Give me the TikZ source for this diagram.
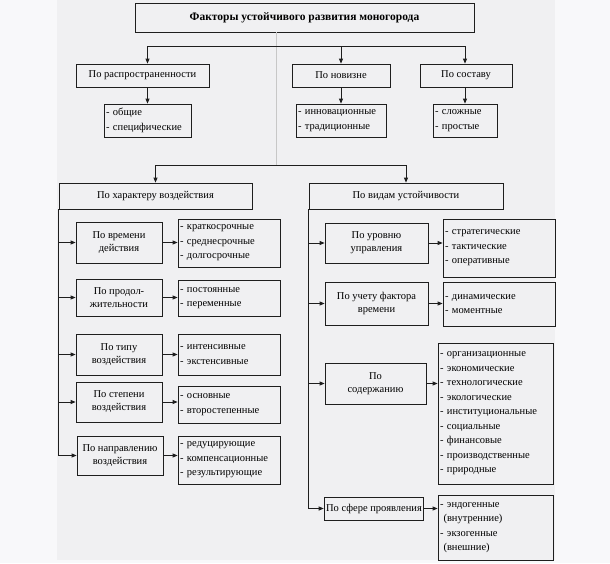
\documentclass[tikz,border=0pt]{standalone}
\usepackage{fontspec}
\setmainfont{Liberation Serif}
\usetikzlibrary{arrows.meta}
\definecolor{outerbg}{HTML}{F8F8FA}
\definecolor{innerbg}{HTML}{F0F0F2}
\definecolor{lineclr}{HTML}{1E1E1E}
\tikzset{
  bx/.style={draw=lineclr, line width=0.8pt, rectangle, inner sep=2pt, align=center,
    font=\fontsize{10.5}{13}\selectfont},
  sub/.style={draw=lineclr, line width=0.8pt, rectangle, inner xsep=2pt, inner ysep=1pt,
    align=left, font=\fontsize{10.5}{14.5}\selectfont},
  conn/.style={draw=lineclr, line width=0.8pt},
  arr/.style={conn, -{Triangle[length=5pt,width=4pt]}},
  grayline/.style={draw=black!22, line width=0.8pt}
}
\begin{document}
\begin{tikzpicture}[x=1pt,y=-1pt]
\useasboundingbox (0,0) rectangle (610,563);
\fill[outerbg] (0,0) rectangle (610,563);
\fill[innerbg] (57,0) rectangle (555,560);

% top level
\node[bx, minimum width=339pt, minimum height=29pt, font=\fontsize{11.5}{14}\selectfont\bfseries] (title) at (304.5,17.5) {Факторы устойчивого развития моногорода};

\node[bx, minimum width=133pt, minimum height=23pt] (rasp) at (142.5,75.5) {По распространенности};
\node[bx, minimum width=98pt, minimum height=23pt] (nov) at (341,75.5) {По новизне};
\node[bx, minimum width=92pt, minimum height=23pt] (sost) at (466,75.5) {По составу};

\node[sub, text width=83pt, minimum height=33pt] (raspsub) at (147.5,120.5) {- общие\\- специфические};
\node[sub, text width=86pt, minimum height=33pt] (novsub) at (341,120.5) {- инновационные\\- традиционные};
\node[sub, text width=60pt, minimum height=33pt] (sostsub) at (465,120.5) {- сложные\\- простые};

\coordinate (hl) at (0,46);
\coordinate (split) at (276,165);
\draw[grayline] (title.south -| split) -- (split);
\draw[conn] (raspsub.north |- hl) -- (sostsub.north |- hl);
\draw[arr] (raspsub.north |- hl) -- (raspsub.north |- rasp.north);
\draw[arr] (novsub.north |- hl) -- (nov.north);
\draw[arr] (sostsub.north |- hl) -- (sostsub.north |- sost.north);
\draw[arr] (rasp.south -| raspsub.north) -- (raspsub.north);
\draw[arr] (nov.south) -- (novsub.north);
\draw[arr] (sost.south -| sostsub.north) -- (sostsub.north);

% second level
\node[bx, minimum width=193pt, minimum height=26pt] (har) at (155.5,196) {По характеру воздействия};
\node[bx, minimum width=194pt, minimum height=26pt] (vid) at (406,196) {По видам устойчивости};
\draw[conn] (har.north |- split) -- (vid.north |- split);
\draw[arr] (har.north |- split) -- (har.north);
\draw[arr] (vid.north |- split) -- (vid.north);

% left column
\node[bx, minimum width=86pt, minimum height=41pt] (time) at (119,242.5) {По времени\\действия};
\node[bx, minimum width=86pt, minimum height=37pt] (prod) at (119,297.5) {По продол-\\жительности};
\node[bx, minimum width=86pt, minimum height=41pt] (type) at (119,354.5) {По типу\\воздействия};
\node[bx, minimum width=86pt, minimum height=40pt] (step) at (119,402) {По степени\\воздействия};
\node[bx, minimum width=86pt, minimum height=39pt] (napr) at (120,455.5) {По направлению\\воздействия};

\node[sub, text width=98pt, minimum height=48pt] (timesub) at (229,243) {- краткосрочные\\- среднесрочные\\- долгосрочные};
\node[sub, text width=98pt, minimum height=36pt] (prodsub) at (229,298) {- постоянные\\- переменные};
\node[sub, text width=98pt, minimum height=41pt] (typesub) at (229,354.5) {- интенсивные\\- экстенсивные};
\node[sub, text width=98pt, minimum height=37pt] (stepsub) at (229,404.5) {- основные\\- второстепенные};
\node[sub, text width=98pt, minimum height=48pt] (naprsub) at (229,460) {- редуцирующие\\- компенсационные\\- результирующие};

\draw[conn] (har.south west) -- (har.south west |- napr.west);
\foreach \b in {time,prod,type,step,napr}{
  \draw[arr] (har.south west |- \b.west) -- (\b.west);
  \draw[arr] (\b.east) -- (\b.east -| \b sub.west);
}

% right column
\node[bx, minimum width=103pt, minimum height=40pt] (urov) at (376.5,243) {По уровню\\управления};
\node[bx, minimum width=103pt, minimum height=43pt] (uchet) at (376.5,303.5) {По учету фактора\\времени};
\node[bx, minimum width=101pt, minimum height=41pt] (sod) at (375.5,383.5) {По\\содержанию};
\node[bx, minimum width=98pt, minimum height=23pt] (sfera) at (374,508.5) {По сфере проявления};

\node[sub, text width=108pt, minimum height=58pt] (urovsub) at (499,248) {- стратегические\\- тактические\\- оперативные};
\node[sub, text width=108pt, minimum height=44pt] (uchetsub) at (499,304) {- динамические\\- моментные};
\node[sub, text width=111pt, minimum height=141pt] (sodsub) at (495.5,413.5) {- организационные\\- экономические\\- технологические\\- экологические\\- институциональные\\- социальные\\- финансовые\\- производственные\\- природные};
\node[sub, text width=111pt, minimum height=65pt] (sferasub) at (495.5,527.5) {- эндогенные\\\ (внутренние)\\- экзогенные\\\ (внешние)};

\draw[conn] (vid.south west) -- (vid.south west |- sfera.west);
\foreach \b in {urov,uchet,sod,sfera}{
  \draw[arr] (vid.south west |- \b.west) -- (\b.west);
  \draw[arr] (\b.east) -- (\b.east -| \b sub.west);
}
\end{tikzpicture}
\end{document}
